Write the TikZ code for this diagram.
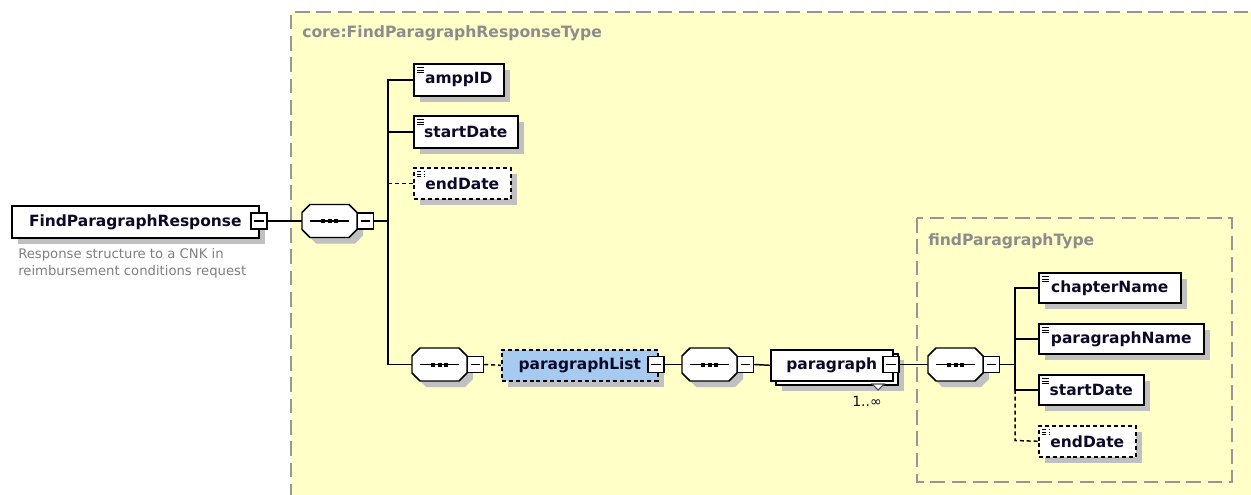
\documentclass[tikz,border=0pt]{standalone}
\usepackage{fontspec}
\setmainfont{DejaVu Sans}
\usetikzlibrary{shadows,calc}
\definecolor{typefill}{RGB}{255,255,200}
\definecolor{typeline}{RGB}{150,150,150}
\definecolor{typetext}{RGB}{140,140,140}
\definecolor{shadowc}{RGB}{192,192,192}
\definecolor{bluefill}{RGB}{166,202,240}
\definecolor{labeltext}{RGB}{10,10,40}
\definecolor{desctext}{RGB}{128,128,128}
\newcommand{\pxu}{*0.75pt}
\tikzset{
  conn/.style={line width=1.1pt, draw=black},
  conndash/.style={line width=1.1pt, draw=black, dash pattern=on 3pt off 2.2pt},
  typeborder/.style={draw=typeline, line width=1.1pt, dash pattern=on 11pt off 5pt},
  typelabel/.style={text=typetext, font=\fontsize{11.7pt}{13pt}\selectfont\bfseries, inner sep=0pt},
  elem/.style={draw=black, line width=1.2pt, fill=white, anchor=north west, inner sep=0pt,
    minimum height=31\pxu, text=labeltext, font=\fontsize{11.6pt}{13pt}\selectfont\bfseries,
    drop shadow={shadow xshift=4.5pt, shadow yshift=-4.5pt, fill=shadowc, opacity=1},
    path picture={\draw[line width=0.6pt] ([shift={(3,4)}]path picture bounding box.north west) -- ++(7,0)
       ([shift={(3,6.5)}]path picture bounding box.north west) -- ++(7,0)
       ([shift={(3,9)}]path picture bounding box.north west) -- ++(7,0);}},
  optelem/.style={elem, dash pattern=on 3pt off 2.2pt},
  plainbox/.style={draw=black, line width=1.2pt, fill=white, anchor=north west, inner sep=0pt,
    minimum height=31\pxu, text=labeltext, font=\fontsize{11.6pt}{13pt}\selectfont\bfseries},
  minusbox/.style={draw=black, line width=1.1pt, fill=white, minimum width=16\pxu, minimum height=16\pxu,
    inner sep=0pt,
    path picture={\draw[line width=0.8pt] ([xshift=2.5pt]path picture bounding box.west) -- ([xshift=-2.5pt]path picture bounding box.east);}},
  seqanchor/.style={minimum width=55\pxu, minimum height=33\pxu, inner sep=0pt, draw=none},
}
% sequence compositor: name, left x, top y
\newcommand{\seqcomp}[3]{%
  \fill[shadowc] (#2+14,#3+6) -- (#2+53,#3+6) -- (#2+61,#3+14) -- (#2+61,#3+31) -- (#2+53,#3+39) -- (#2+14,#3+39) -- (#2+6,#3+31) -- (#2+6,#3+14) -- cycle;
  \draw[line width=1.1pt, fill=white] (#2+8,#3) -- (#2+47,#3) -- (#2+55,#3+8) -- (#2+55,#3+25) -- (#2+47,#3+33) -- (#2+8,#3+33) -- (#2,#3+25) -- (#2,#3+8) -- cycle;
  \node[seqanchor] (#1) at (#2+27.5,#3+16.5) {};
  \draw[line width=1pt] (#2+8,#3+16.5) -- (#2+47,#3+16.5);
  \fill (#2+19,#3+14.5) rectangle ++(4,4);
  \fill (#2+25.5,#3+14.5) rectangle ++(4,4);
  \fill (#2+32,#3+14.5) rectangle ++(4,4);
  \node[minusbox] (#1m) at (#2+63.5,#3+16.5) {};
}
\begin{document}
\begin{tikzpicture}[x=0.75pt,y=-0.75pt]
\useasboundingbox (0,0) rectangle (1251,495);
\clip (0,0) rectangle (1251,495);
\fill[white] (0,0) rectangle (1251,495);
% outer type
\fill[typefill] (291,12) rectangle (1280,520);
\draw[typeborder] (291,520) -- (291,12) -- (1280,12);
\node[typelabel, anchor=west] (t1) at (302,33) {core:FindParagraphResponseType};
% inner type
\draw[typeborder] (917,218) rectangle (1232,482);
\node[typelabel, anchor=west] (t2) at (928,241) {findParagraphType};

% root element
\node[plainbox, minimum width=247\pxu, minimum height=32\pxu,
  drop shadow={shadow xshift=4.5pt, shadow yshift=-4.5pt, fill=shadowc, opacity=1}] (fpr) at (11,205) {FindParagraphResponse};
\node[minusbox] (fprm) at (259,221) {};
\node[anchor=north west, inner sep=0pt, align=left, text=desctext,
  font=\fontsize{9.9pt}{12.6pt}\selectfont] (desc) at (18,248) {Response structure to a CNK in\\reimbursement conditions request};

% first level
\seqcomp{s1}{302}{204.5}
\node[elem, minimum width=90\pxu, minimum height=32\pxu] (amp) at (413,63) {amppID};
\node[elem, minimum width=104\pxu, minimum height=32\pxu] (sd1) at (413,115) {startDate};
\node[optelem, minimum width=97\pxu] (ed1) at (413,167) {endDate};
\seqcomp{s2}{412}{348}
\coordinate (bus1) at (388,364.5);

\draw[conn] (fprm.east) -- (s1.west);
\draw[conn] (amp.west) -- (amp.west -| bus1) -- (bus1) -- (s2.west);
\draw[conn] (sd1.west) -- (sd1.west -| bus1);
\draw[conndash] (ed1.west) -- (ed1.west -| bus1);
\draw[conn] (s1m.east) -- (s1m.east -| bus1);

% paragraphList
\node[optelem, fill=bluefill, minimum width=156\pxu, path picture={}] (plist) at (501,349) {paragraphList};
\node[minusbox] (plistm) at (656,364.5) {};
\draw[conndash] (s2m.east) -- (plist.west);
\seqcomp{s3}{682}{348}
\draw[conn] (plistm.east) -- (s3.west);

% paragraph (repeating)
\node[plainbox, minimum width=122\pxu,
  drop shadow={shadow xshift=4.5pt, shadow yshift=-4.5pt, fill=shadowc, opacity=1}] (parb) at (775,353) {};
\node[plainbox, minimum width=122\pxu] (par) at (770,349) {paragraph};
\node[minusbox] (parm) at (891,364.5) {};
\draw[line width=0.8pt, draw=black!70, fill=white] (872,384) -- (884,384) -- (878,390) -- cycle;
\node[inner sep=0pt, text=labeltext, font=\fontsize{10.5pt}{12pt}\selectfont] (mult) at (867,401) {1..∞};
\draw[conn] (s3m.east) -- (par.west);
\seqcomp{s4}{928}{348}
\draw[conn] (parm.east) -- (s4.west);

% second level
\node[elem, minimum width=142\pxu, minimum height=30\pxu] (chap) at (1038,272) {chapterName};
\node[elem, minimum width=165\pxu, minimum height=30\pxu] (pname) at (1038,323) {paragraphName};
\node[elem, minimum width=105\pxu, minimum height=30\pxu] (sd2) at (1038,374) {startDate};
\node[optelem, minimum width=97\pxu] (ed2) at (1038,425) {endDate};
\coordinate (bus2) at (1015,440.5);
\draw[conn] (chap.west) -- (chap.west -| bus2) -- (sd2.west -| bus2) -- (sd2.west);
\draw[conn] (pname.west) -- (pname.west -| bus2);
\draw[conn] (s4m.east) -- (s4m.east -| bus2);
\draw[conndash] (sd2.west -| bus2) -- (bus2) -- (ed2.west);
\end{tikzpicture}
\end{document}
